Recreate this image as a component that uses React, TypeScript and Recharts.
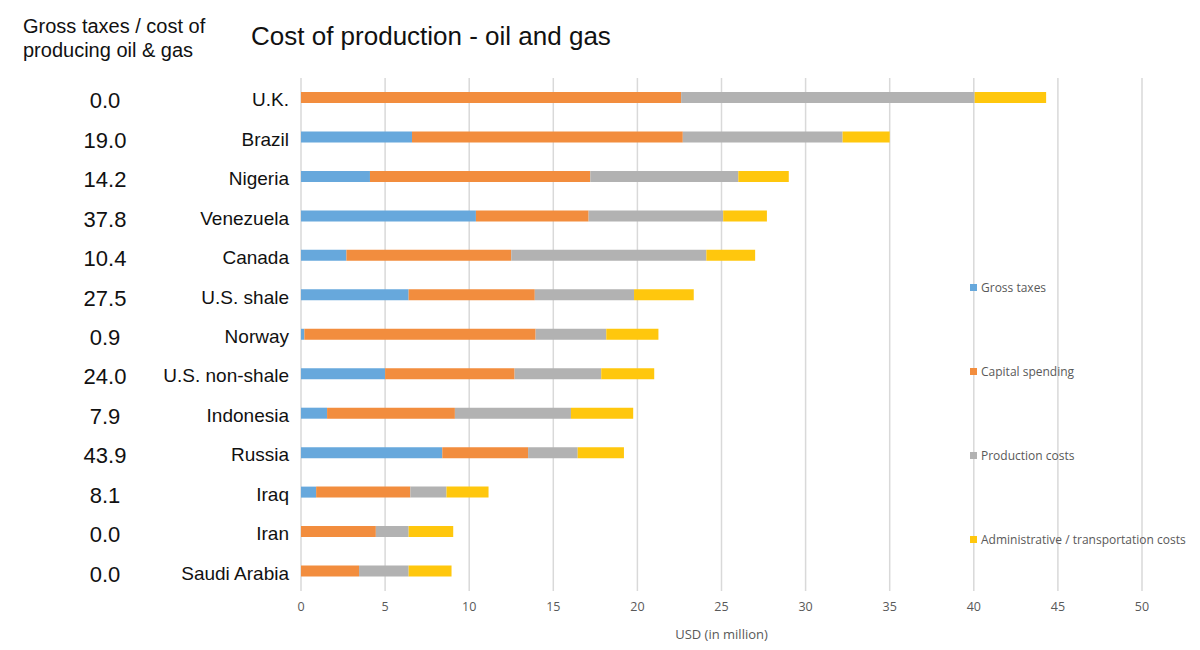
import { Bar, BarChart, CartesianGrid, Legend, XAxis, YAxis } from 'recharts'

// Values (USD, in million)
const countries = [
  'U.K.',
  'Brazil',
  'Nigeria',
  'Venezuela',
  'Canada',
  'U.S. shale',
  'Norway',
  'U.S. non-shale',
  'Indonesia',
  'Russia',
  'Iraq',
  'Iran',
  'Saudi Arabia',
]
const grossTaxes = [0, 6.6, 4.1, 10.4, 2.7, 6.4, 0.2, 5.0, 1.55, 8.4, 0.9, 0, 0]
const capitalSpending = [22.6, 16.1, 13.1, 6.7, 9.8, 7.5, 13.75, 7.7, 7.6, 5.1, 5.6, 4.45, 3.45]
const productionCosts = [17.45, 9.5, 8.8, 8.0, 11.6, 5.9, 4.2, 5.15, 6.9, 2.95, 2.15, 1.95, 2.95]
const adminCosts = [4.25, 2.8, 3.0, 2.6, 2.9, 3.55, 3.1, 3.15, 3.7, 2.75, 2.5, 2.65, 2.55]
const taxShare = ['0.0', '19.0', '14.2', '37.8', '10.4', '27.5', '0.9', '24.0', '7.9', '43.9', '8.1', '0.0', '0.0']
const xTicks = [0, 5, 10, 15, 20, 25, 30, 35, 40, 45, 50]

const BLUE = '#67a8dc'
const ORANGE = '#f28d3e'
const GRAY = '#b2b2b2'
const YELLOW = '#ffc70d'

const series = [
  { key: 'tax', name: 'Gross taxes', color: BLUE },
  { key: 'capital', name: 'Capital spending', color: ORANGE },
  { key: 'production', name: 'Production costs', color: GRAY },
  { key: 'admin', name: 'Administrative / transportation costs', color: YELLOW },
]

const data = countries.map((country, i) => ({
  country,
  tax: grossTaxes[i],
  capital: capitalSpending[i],
  production: productionCosts[i],
  admin: adminCosts[i],
  share: taxShare[i],
}))

const ARIAL = '"Liberation Sans", Arial, sans-serif'
const SMALL = '"Open Sans", "Noto Sans", sans-serif'

function CountryTick(props: any) {
  const { y, payload, index } = props
  return (
    <g>
      <text
        x={105}
        y={y + 3}
        textAnchor="middle"
        dominantBaseline="central"
        fontFamily={ARIAL}
        fontSize={22}
        fill="#111"
      >
        {taxShare[index]}
      </text>
      <text
        x={289}
        y={y + 2}
        textAnchor="end"
        dominantBaseline="central"
        fontFamily={ARIAL}
        fontSize={19}
        fill="#111"
      >
        {payload.value}
      </text>
    </g>
  )
}

function renderLegend() {
  return (
    <div style={{ fontFamily: SMALL, fontSize: 12, color: '#595959' }}>
      {series.map((s) => (
        <div
          key={s.key}
          style={{ height: 84, display: 'flex', alignItems: 'flex-start' }}
        >
          <span
            style={{
              display: 'inline-block',
              width: 7,
              height: 7,
              background: s.color,
              marginTop: 5,
              marginRight: 4,
            }}
          />
          <span>{s.name}</span>
        </div>
      ))}
    </div>
  )
}

export default function App() {
  return (
    <div
      style={{
        position: 'absolute',
        left: 0,
        top: 0,
        width: 1200,
        height: 650,
        background: '#fff',
      }}
    >
      <div
        style={{
          position: 'absolute',
          left: 23,
          top: 14,
          fontFamily: ARIAL,
          fontSize: 20,
          lineHeight: '24px',
          color: '#111',
        }}
      >
        Gross taxes / cost of
        <br />
        producing oil &amp; gas
      </div>
      <div
        style={{
          position: 'absolute',
          left: 251,
          top: 21,
          fontFamily: ARIAL,
          fontSize: 26,
          color: '#111',
        }}
      >
        Cost of production - oil and gas
      </div>
      <BarChart
        width={1200}
        height={650}
        data={data}
        layout="vertical"
        margin={{ top: 78, right: 58, bottom: 9, left: 0 }}
      >
        <CartesianGrid horizontal={false} stroke="#d9d9d9" strokeWidth={1.5} />
        <XAxis
          type="number"
          domain={[0, 50]}
          ticks={xTicks}
          axisLine={false}
          tickLine={false}
          tickMargin={5}
          height={50}
          tick={{ fill: '#595959', fontSize: 12.5, fontFamily: SMALL }}
          label={{
            value: 'USD (in million)',
            position: 'insideBottom',
            offset: 2,
            fill: '#595959',
            fontSize: 13,
            fontFamily: SMALL,
          }}
        />
        <YAxis
          type="category"
          dataKey="country"
          width={301}
          axisLine={false}
          tickLine={false}
          interval={0}
          tick={<CountryTick />}
        />
        <Legend
          layout="horizontal"
          align="center"
          verticalAlign="middle"
          content={renderLegend}
          wrapperStyle={{ left: 970, top: 279, width: 228 }}
        />
        {series.map((s) => (
          <Bar
            key={s.key}
            dataKey={s.key}
            name={s.name}
            stackId="cost"
            fill={s.color}
            barSize={11}
            isAnimationActive={false}
          />
        ))}
      </BarChart>
    </div>
  )
}
